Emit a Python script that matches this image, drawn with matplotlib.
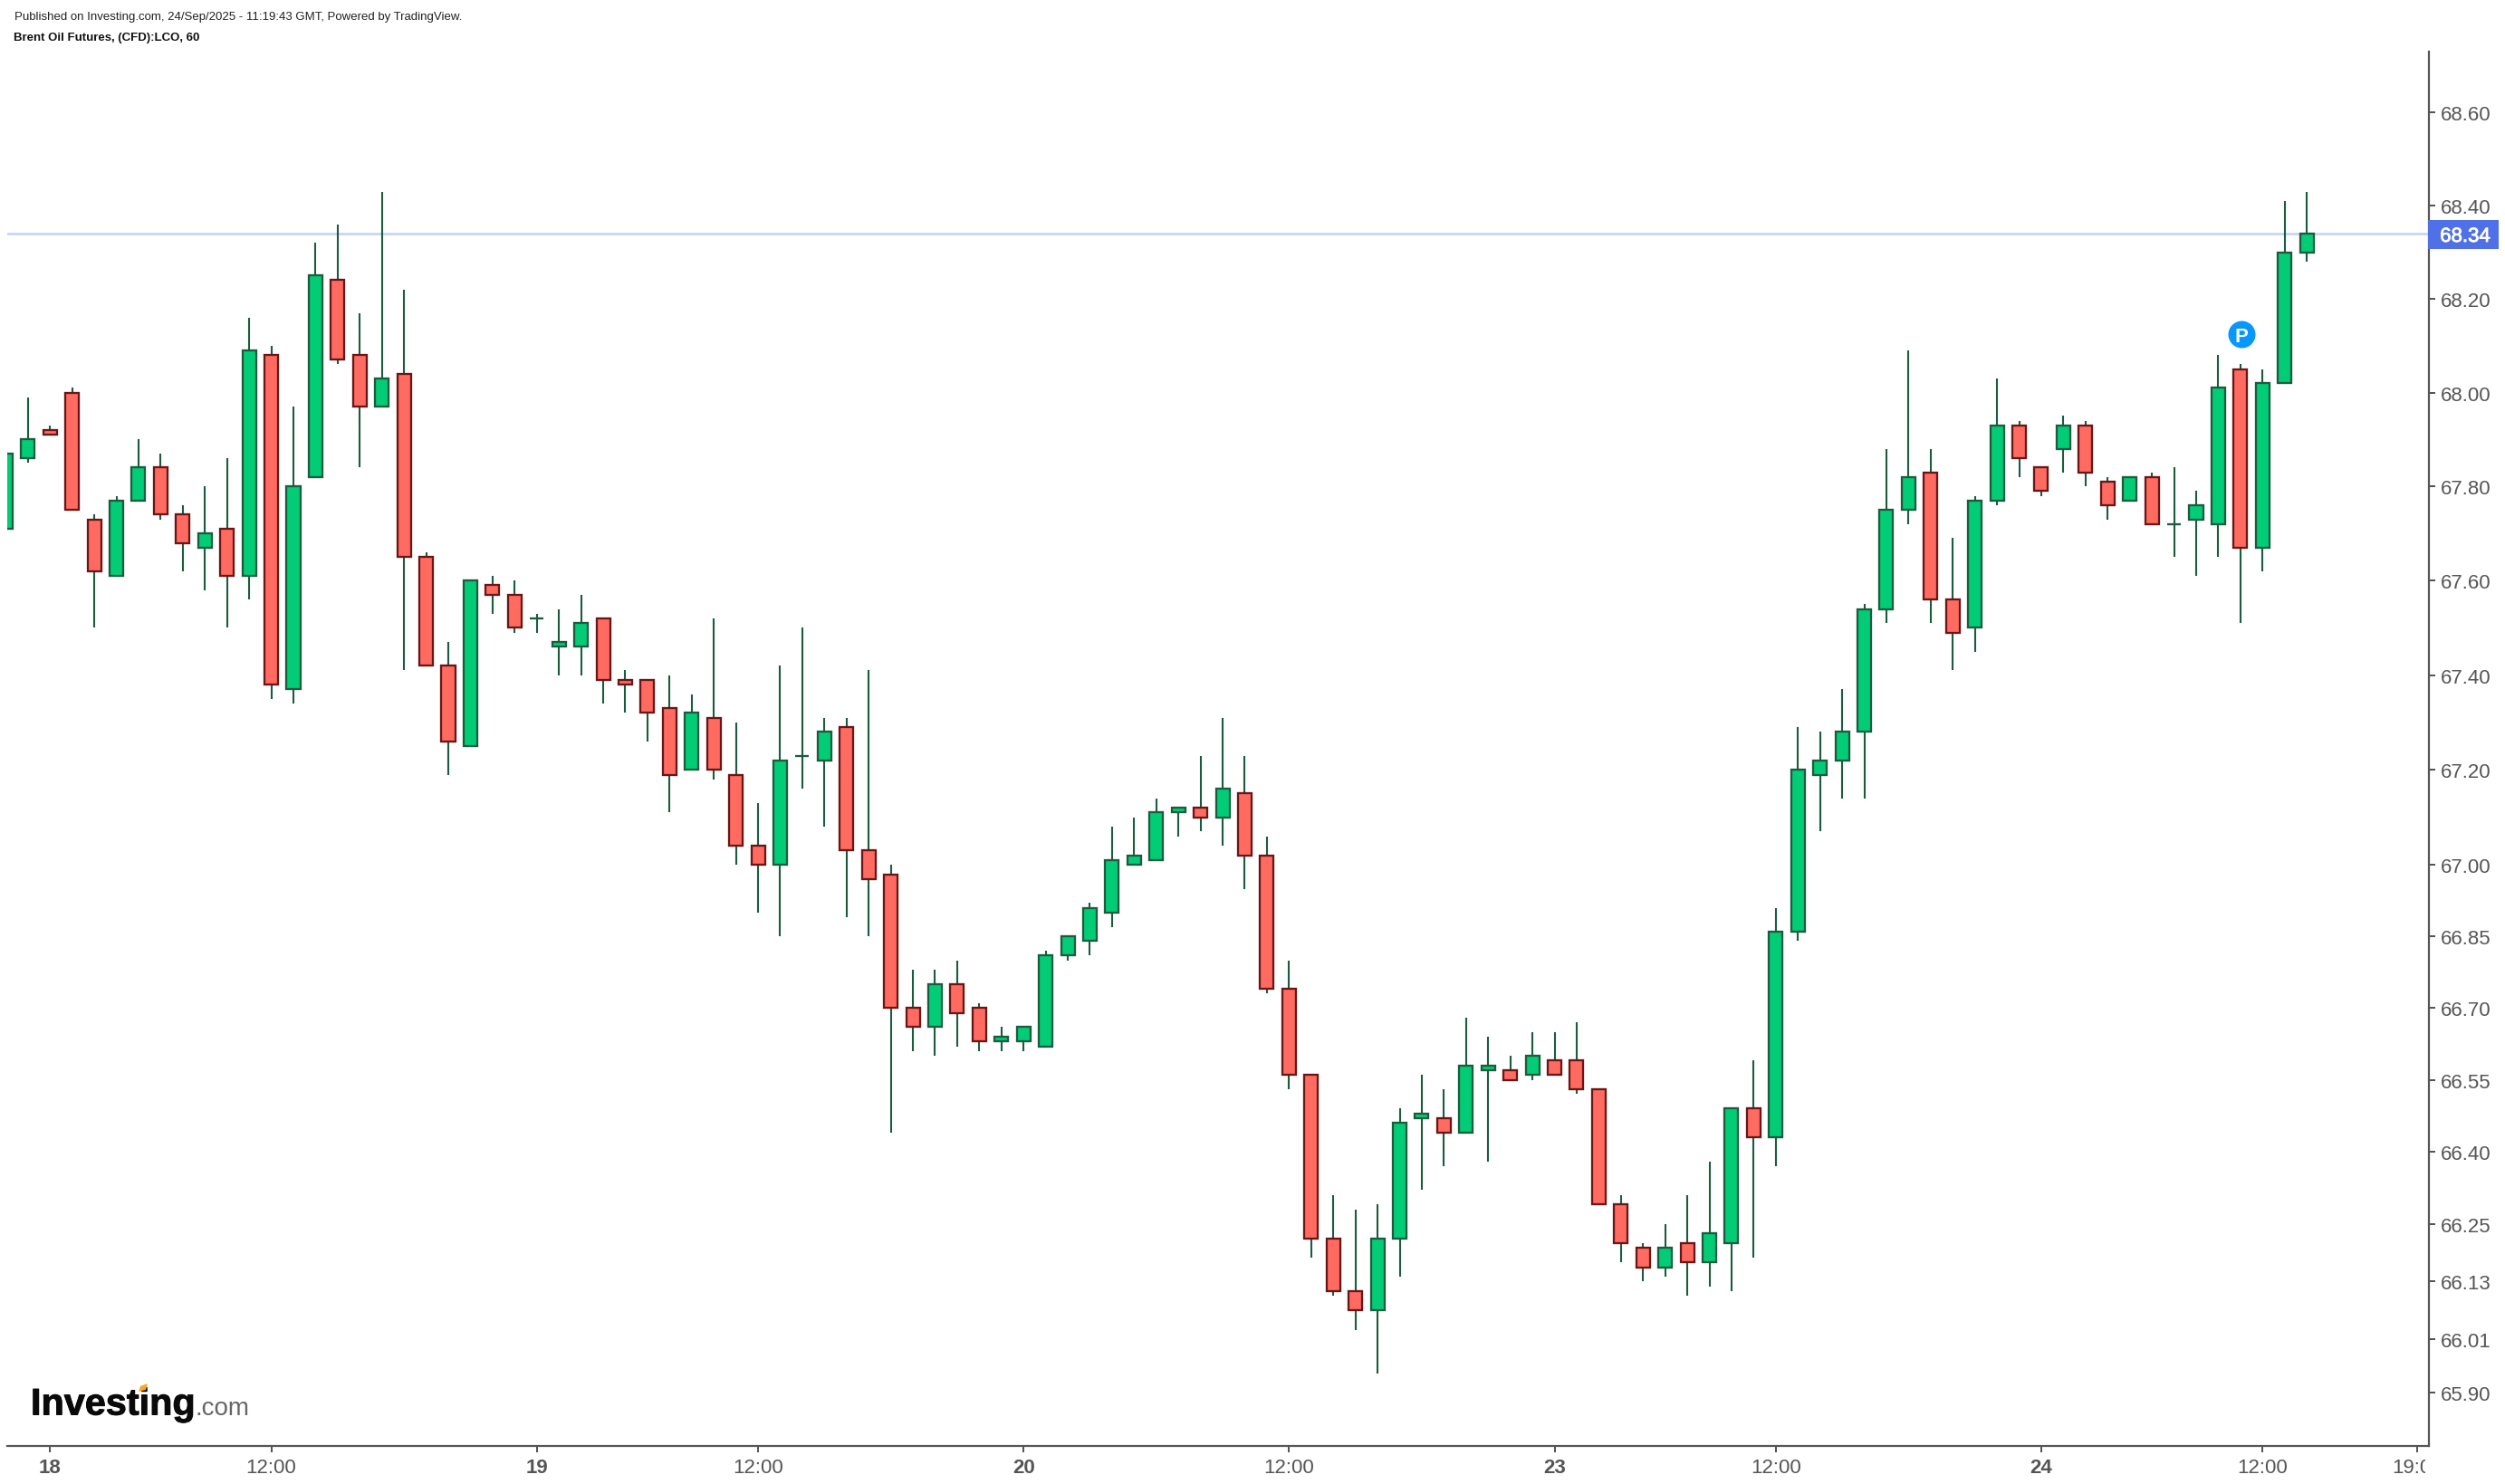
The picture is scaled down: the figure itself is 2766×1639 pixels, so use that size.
import matplotlib
matplotlib.use("Agg")
import matplotlib.pyplot as plt
import matplotlib.patheffects as pe
from matplotlib.ticker import NullLocator, NullFormatter, FixedLocator, FixedFormatter
from matplotlib.transforms import Bbox
from matplotlib.patches import Rectangle, Polygon

W, H = 2766, 1640
plt.rcParams['font.family'] = ['Liberation Sans', 'DejaVu Sans']

opens = [67.71,67.86,67.92,68.00,67.73,67.61,67.77,67.84,67.74,67.67,
         67.71,67.61,68.08,67.37,67.82,68.24,68.08,67.97,68.04,67.65,
         67.42,67.25,67.59,67.57,67.52,67.46,67.46,67.52,67.39,67.39,
         67.33,67.20,67.31,67.19,67.04,67.00,67.23,67.22,67.29,67.03,
         66.98,66.70,66.66,66.75,66.70,66.63,66.63,66.62,66.81,66.84,
         66.90,67.00,67.01,67.11,67.12,67.10,67.15,67.02,66.74,66.56,
         66.22,66.11,66.07,66.22,66.47,66.47,66.44,66.57,66.57,66.56,
         66.59,66.59,66.53,66.29,66.20,66.16,66.21,66.17,66.21,66.49,
         66.43,66.86,67.19,67.22,67.28,67.54,67.75,67.83,67.56,67.50,
         67.77,67.93,67.84,67.88,67.93,67.81,67.77,67.82,67.72,67.73,
         67.72,68.05,67.67,68.02,68.30]
highs = [67.87,67.99,67.93,68.01,67.74,67.78,67.90,67.87,67.76,67.80,
         67.86,68.16,68.10,67.97,68.32,68.36,68.17,68.43,68.22,67.66,
         67.47,67.60,67.61,67.60,67.53,67.54,67.57,67.52,67.41,67.39,
         67.40,67.36,67.52,67.30,67.13,67.42,67.50,67.31,67.31,67.41,
         67.00,66.78,66.78,66.80,66.71,66.66,66.66,66.82,66.85,66.92,
         67.08,67.10,67.14,67.12,67.23,67.31,67.23,67.06,66.80,66.56,
         66.31,66.28,66.29,66.49,66.56,66.53,66.68,66.64,66.60,66.65,
         66.65,66.67,66.53,66.31,66.21,66.25,66.31,66.38,66.49,66.59,
         66.91,67.29,67.28,67.37,67.55,67.88,68.09,67.88,67.69,67.78,
         68.03,67.94,67.84,67.95,67.94,67.82,67.82,67.83,67.84,67.79,
         68.08,68.06,68.05,68.41,68.43]
lows = [67.71,67.85,67.91,67.75,67.50,67.61,67.77,67.73,67.62,67.58,
        67.50,67.56,67.35,67.34,67.82,68.06,67.84,67.97,67.41,67.42,
        67.19,67.25,67.53,67.49,67.49,67.40,67.40,67.34,67.32,67.26,
        67.11,67.20,67.18,67.00,66.90,66.85,67.16,67.08,66.89,66.85,
        66.44,66.61,66.60,66.62,66.61,66.61,66.61,66.62,66.80,66.81,
        66.87,67.00,67.01,67.06,67.07,67.04,66.95,66.73,66.53,66.18,
        66.10,66.03,65.94,66.14,66.32,66.37,66.44,66.38,66.55,66.55,
        66.56,66.52,66.29,66.17,66.13,66.14,66.10,66.12,66.11,66.18,
        66.37,66.84,67.07,67.14,67.14,67.51,67.72,67.51,67.41,67.45,
        67.76,67.82,67.78,67.83,67.80,67.73,67.77,67.72,67.65,67.61,
        67.65,67.51,67.62,68.02,68.28]
closes = [67.87,67.90,67.91,67.75,67.62,67.77,67.84,67.74,67.68,67.70,
          67.61,68.09,67.38,67.80,68.25,68.07,67.97,68.03,67.65,67.42,
          67.26,67.60,67.57,67.50,67.52,67.47,67.51,67.39,67.38,67.32,
          67.19,67.32,67.20,67.04,67.00,67.22,67.23,67.28,67.03,66.97,
          66.70,66.66,66.75,66.69,66.63,66.64,66.66,66.81,66.85,66.91,
          67.01,67.02,67.11,67.12,67.10,67.16,67.02,66.74,66.56,66.22,
          66.11,66.07,66.22,66.46,66.48,66.44,66.58,66.58,66.55,66.60,
          66.56,66.53,66.29,66.21,66.16,66.20,66.17,66.23,66.49,66.43,
          66.86,67.20,67.22,67.28,67.54,67.75,67.82,67.56,67.49,67.77,
          67.93,67.86,67.79,67.93,67.83,67.76,67.82,67.72,67.72,67.76,
          68.01,67.67,68.02,68.30,68.34]

y_ticks = [65.90,66.01,66.13,66.25,66.40,66.55,66.70,66.85,67.00,67.20,
           67.40,67.60,67.80,68.00,68.20,68.40,68.60]
x_tick_pos = [2,12,24,34,46,58,70,80,92,102,109]
x_tick_labels = ['18','12:00','19','12:00','20','12:00','23','12:00','24','12:00','19:00']
last_price = 68.34
marker_bar = 101
marker_price = 68.125

GREEN, RED = '#02cc75', '#ff6b61'
GREEN_E, RED_E, WICK = '#1c5c3e', '#6a1616', '#1c5c3e'
AXC = '#555555'
px = 72 / 100  # one pixel in points

fig = plt.figure(figsize=(W / 100, H / 100), dpi=100, facecolor='white')
L, R, T, B = 8, 2682, 58, 1598
ax = fig.add_axes([L / W, 1 - B / H, (R - L) / W, (B - T) / H])
ax.set_yscale('log')
ax.set_ylim(65.79, 68.731)
ax.set_xlim(0.0655, 109.52)

ax.axhline(last_price, color='#c6d1f6', lw=2.6 * px, zorder=1)

xs = list(range(len(opens)))
ax.vlines(xs, lows, highs, color=WICK, lw=2.1 * px, zorder=2)
for x, o, c in zip(xs, opens, closes):
    up = c >= o
    ax.bar(x, abs(c - o), bottom=min(o, c), width=0.615,
           facecolor=GREEN if up else RED, edgecolor=GREEN_E if up else RED_E,
           linewidth=2.3 * px, zorder=3)

ax.scatter([marker_bar + 0.03], [marker_price], s=(30 * px) ** 2, color='#0896ff', linewidths=0, zorder=5)
ax.text(marker_bar + 0.03, marker_price, 'P', color='white', fontsize=16, fontweight='bold',
        ha='center', va='center_baseline', zorder=6)

for s in ('left', 'top'):
    ax.spines[s].set_visible(False)
for s in ('right', 'bottom'):
    ax.spines[s].set_color(AXC)
    ax.spines[s].set_linewidth(2.2 * px)

ax.yaxis.tick_right()
ax.yaxis.set_major_locator(FixedLocator(y_ticks))
ax.yaxis.set_major_formatter(FixedFormatter([f'{v:.2f}' for v in y_ticks]))
ax.yaxis.set_minor_locator(NullLocator())
ax.yaxis.set_minor_formatter(NullFormatter())
ax.set_xticks(x_tick_pos)
ax.set_xticklabels(x_tick_labels)
ax.tick_params(axis='y', length=7 * px, width=2 * px, color=AXC, labelcolor=AXC,
               labelsize=16, pad=6 * px)
ax.tick_params(axis='x', length=7 * px, width=2 * px, color=AXC, labelcolor=AXC,
               labelsize=16, pad=6.5 * px)
for t in ax.get_xticklabels():
    if ':' not in t.get_text():
        t.set_fontweight('bold')
    t.set_clip_on(True)
    t.set_clip_box(Bbox([[0, 0], [2678, H]]))

# last price label
fig.add_artist(Rectangle((2681 / W, 1 - 276 / H), 78 / W, 32 / H, transform=fig.transFigure,
                         facecolor='#4f70e6', edgecolor='none', zorder=5))
fig.text(2722 / W, 1 - 260 / H, f'{last_price:.2f}', color='white', fontsize=16,
         ha='center', va='center_baseline', zorder=6,
         path_effects=[pe.withStroke(linewidth=0.6, foreground='white')])

# header
fig.text(15.7 / W, 1 - 22 / H, 'Published on Investing.com, 24/Sep/2025 - 11:19:43 GMT, Powered by TradingView.',
         fontsize=9.55, color='#222222', ha='left', va='baseline')
fig.text(15 / W, 1 - 45 / H, 'Brent Oil Futures, (CFD):LCO, 60',
         fontsize=9.55, color='#111111', fontweight='bold', ha='left', va='baseline')

# logo
fig.text(34 / W, 1 - 1563.5 / H, 'Investing', fontsize=29.8, fontweight='bold', color='#0a0a0a',
         ha='left', va='baseline', path_effects=[pe.withStroke(linewidth=0.7, foreground='#0a0a0a')])
fig.text(216 / W, 1 - 1563.5 / H, '.com', fontsize=20, color='#666666', ha='left', va='baseline')
fig.add_artist(Polygon([(153 / W, 1 - 1538 / H), (155 / W, 1 - 1532 / H), (163 / W, 1 - 1529 / H),
                        (161 / W, 1 - 1536 / H)], transform=fig.transFigure,
                       facecolor='#f5a623', edgecolor='none', zorder=5))

fig.savefig('out.png', dpi=100, facecolor='white')
